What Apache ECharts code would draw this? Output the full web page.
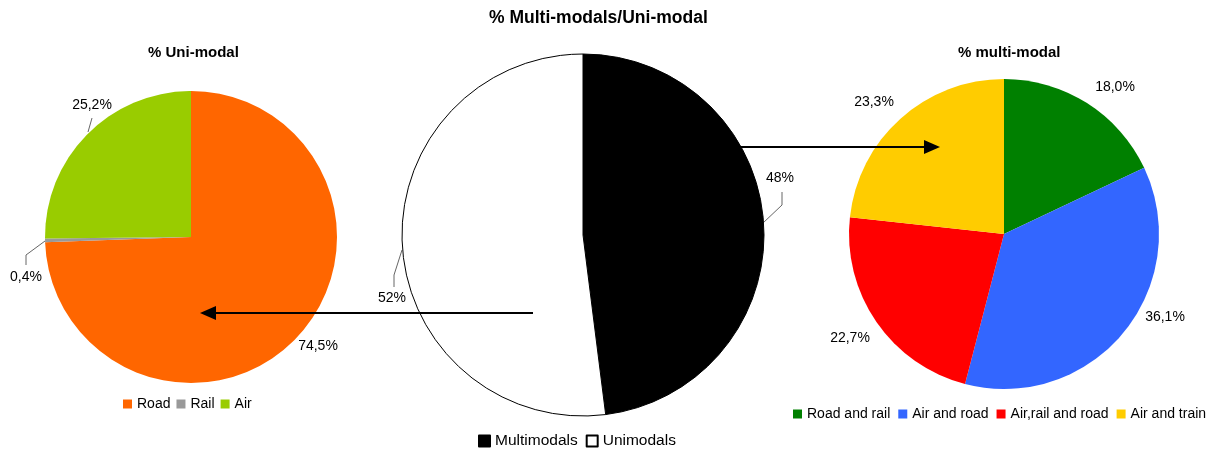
<!DOCTYPE html>
<html><head><meta charset="utf-8">
<script src="https://cdn.jsdelivr.net/npm/echarts@6/dist/echarts.min.js"></script>
<style>html,body{margin:0;padding:0;background:#fff}#c{width:1219px;height:453px}</style>
</head><body><div id="c"></div>
<script>
const uniCategories = ['Road', 'Rail', 'Air'];
const uniValues = [74.5, 0.4, 25.2];
const uniColors = ['#FF6600', '#999999', '#99CC00'];

const mainCategories = ['Multimodals', 'Unimodals'];
const mainValues = [48, 52];

const multiCategories = ['Road and rail', 'Air and road', 'Air,rail and road', 'Air and train'];
const multiValues = [18.0, 36.1, 22.7, 23.3];
const multiColors = ['#008000', '#3366FF', '#FF0000', '#FFCC00'];

// label placement (layout only): [seriesIndex][dataIndex] -> label centre and optional leader points
const labelPlacement = [
  [
    {x: 318, y: 346},
    {x: 26, y: 277, line: [[45, 241], [26, 255], [26, 265]]},
    {x: 92, y: 105, line: [[88, 132], [92, 118]]}
  ],
  [
    {x: 780, y: 178, line: [[763, 223], [782, 205], [782, 192]]},
    {x: 392, y: 298, line: [[402, 250], [394, 275], [394, 287]]}
  ],
  [
    {x: 1115, y: 87},
    {x: 1165, y: 317},
    {x: 850, y: 338},
    {x: 874, y: 102}
  ]
];

const FONT = 'Liberation Sans, Arial, sans-serif';
const fmtComma = p => p.value.toFixed(1).replace('.', ',') + '%';
const labelStyle = {color: '#000', fontSize: 14, fontFamily: FONT};

const chart = echarts.init(document.getElementById('c'), null, {renderer: 'canvas'});

function arrow(x1, x2, y) {
  const dir = x2 > x1 ? 1 : -1;
  return [
    {type: 'line', z: 100, shape: {x1: x1, y1: y, x2: x2 - dir * 12, y2: y}, style: {stroke: '#000', lineWidth: 2}},
    {type: 'polygon', z: 100, shape: {points: [[x2, y], [x2 - dir * 16, y - 7], [x2 - dir * 16, y + 7]]}, style: {fill: '#000'}}
  ];
}

function layoutFor(si) {
  return function (params) {
    const p = labelPlacement[si][params.dataIndex];
    const out = {x: p.x, y: p.y, align: 'center', verticalAlign: 'middle'};
    if (p.line) out.labelLinePoints = p.line;
    return out;
  };
}

const lineStyle = {color: '#666', width: 1};

chart.setOption({
  animation: false,
  backgroundColor: '#fff',
  title: [
    {text: '% Multi-modals/Uni-modal', left: 484, top: 4, textStyle: {fontFamily: FONT, fontSize: 17.5, fontWeight: 'bold', color: '#000'}},
    {text: '% Uni-modal', left: 143, top: 40, textStyle: {fontFamily: FONT, fontSize: 15, fontWeight: 'bold', color: '#000'}},
    {text: '% multi-modal', left: 953, top: 40, textStyle: {fontFamily: FONT, fontSize: 15, fontWeight: 'bold', color: '#000'}}
  ],
  legend: [
    {data: uniCategories, left: 118, top: 392, icon: 'rect', itemWidth: 9, itemHeight: 9, itemGap: 6,
     textStyle: {fontFamily: FONT, fontSize: 14, color: '#000'}},
    {data: mainCategories, left: 473, top: 428, icon: 'rect', itemWidth: 11, itemHeight: 11, itemGap: 8,
     textStyle: {fontFamily: FONT, fontSize: 15.5, color: '#000'}},
    {data: multiCategories, left: 788, top: 402, icon: 'rect', itemWidth: 9, itemHeight: 9, itemGap: 8,
     textStyle: {fontFamily: FONT, fontSize: 14, color: '#000'}}
  ],
  graphic: arrow(533, 200, 313).concat(arrow(740, 940, 147)),
  series: [
    {
      type: 'pie', center: [191, 237], radius: 146, startAngle: 90, clockwise: true,
      data: uniCategories.map((n, i) => ({name: n, value: uniValues[i], itemStyle: {color: uniColors[i]},
        labelLine: {show: i !== 0}})),
      label: Object.assign({show: true, position: 'outside', formatter: fmtComma}, labelStyle),
      labelLine: {show: false, lineStyle: lineStyle},
      labelLayout: layoutFor(0),
      emphasis: {disabled: true}, avoidLabelOverlap: false
    },
    {
      type: 'pie', center: [583, 235], radius: 181, startAngle: 90, clockwise: true,
      data: mainCategories.map((n, i) => ({name: n, value: mainValues[i],
        itemStyle: {color: i === 0 ? '#000' : '#fff', borderColor: '#000', borderWidth: 1}})),
      label: Object.assign({show: true, position: 'outside', formatter: p => p.value + '%'}, labelStyle),
      labelLine: {show: true, lineStyle: lineStyle},
      labelLayout: layoutFor(1),
      emphasis: {disabled: true}, avoidLabelOverlap: false
    },
    {
      type: 'pie', center: [1004, 234], radius: 155, startAngle: 90, clockwise: true,
      data: multiCategories.map((n, i) => ({name: n, value: multiValues[i], itemStyle: {color: multiColors[i]}})),
      label: Object.assign({show: true, position: 'outside', formatter: fmtComma}, labelStyle),
      labelLine: {show: false},
      labelLayout: layoutFor(2),
      emphasis: {disabled: true}, avoidLabelOverlap: false
    }
  ]
});
</script></body></html>
